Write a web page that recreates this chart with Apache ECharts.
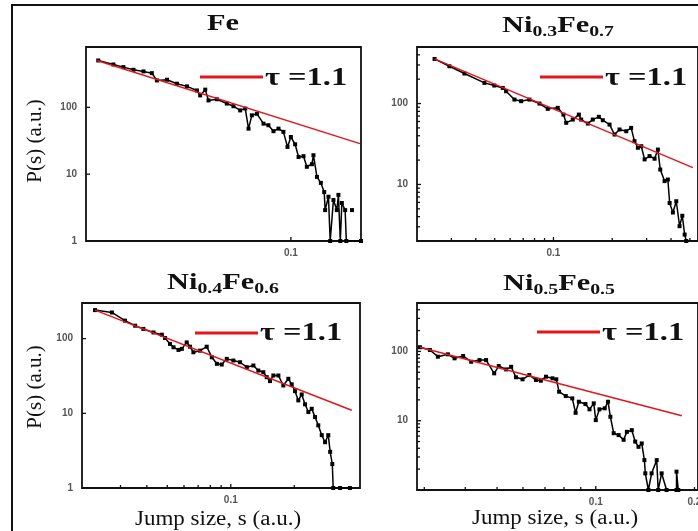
<!DOCTYPE html>
<html>
<head>
<meta charset="utf-8">
<script src="https://cdn.jsdelivr.net/npm/echarts@6/dist/echarts.min.js"></script>
<style>
  html, body { margin: 0; padding: 0; background: #fff; }
  #chart { width: 698px; height: 531px; }
</style>
</head>
<body>
<div id="chart"></div>
<script>
// Jump-size distributions P(s) for four alloys, each with its power-law fit (tau = 1.1)

// --- Fe ---
const feSize = [0.0149, 0.0173, 0.0191, 0.0211, 0.0233, 0.0253, 0.0266, 0.0294, 0.0324, 0.0358, 0.0395, 0.0408, 0.0429, 0.0443, 0.0481, 0.0531, 0.0567, 0.0606, 0.0637, 0.0658, 0.068, 0.0715, 0.0763, 0.0801, 0.0842, 0.0885, 0.0929, 0.0967, 0.1, 0.1043, 0.1079, 0.1133, 0.1171, 0.1231, 0.125, 0.1294, 0.1345, 0.139, 0.1403, 0.145, 0.1475, 0.1523, 0.1575, 0.16, 0.163, 0.1655, 0.171, 0.173, 0.2, null, 0.183];
const feProb = [503, 438, 400, 365, 345, 325, 253, 259, 226, 206, 179, 151, 184, 127, 132, 114, 104, 90, 96, 48, 76, 80, 57, 54, 44, 48, 43, 25.6, 36, 28, 18.1, 18.6, 12.9, 14.1, 19.2, 9.1, 7.4, 5.4, 2.9, 4.6, 1, 4.1, 2.9, 4.9, 1, 3.7, 2.9, 1, 1, null, 2.9];
const feFitSize = [0.0147, 0.198];
const feFitProb = [503, 28.7];

// --- Ni0.3Fe0.7 ---
const ni3Size = [0.0246, 0.0293, 0.035, 0.0443, 0.0498, 0.055, 0.0572, 0.0631, 0.0683, 0.0753, 0.0848, 0.0935, 0.1052, 0.1125, 0.1162, 0.1256, 0.1349, 0.1387, 0.15, 0.159, 0.1708, 0.179, 0.1938, 0.2055, 0.218, 0.236, 0.25, 0.26, 0.2707, 0.2817, 0.293, 0.3106, 0.3296, 0.3427, 0.3524, 0.3709, 0.3855, 0.3936, 0.409, 0.4257, 0.4426, 0.457, 0.47, 0.479];
const ni3Prob = [356, 289, 235, 180, 167, 156, 142, 112, 107, 112, 100, 86, 88.5, 73, 57.8, 63.4, 73, 63.4, 56.6, 63.4, 68.5, 62.2, 55, 41.4, 47.8, 45.5, 50, 34.3, 28.4, 29.7, 20.4, 22.4, 20.8, 27, 15.3, 11, 11.5, 5.9, 4.5, 6.2, 3.05, 4.1, 2.4, 2];
const ni3FitSize = [0.0246, 0.5176];
const ni3FitProb = [356, 16.1];

// --- Ni0.4Fe0.6 ---
const ni4Size = [0.0227, 0.0273, 0.0315, 0.0352, 0.0385, 0.043, 0.0471, 0.0488, 0.0515, 0.0535, 0.0565, 0.0586, 0.0618, 0.0641, 0.0665, 0.0715, 0.0769, 0.0813, 0.0859, 0.0906, 0.0957, 0.1029, 0.1107, 0.1191, 0.128, 0.1351, 0.1427, 0.148, 0.1535, 0.1592, 0.1682, 0.1775, 0.1875, 0.1945, 0.2017, 0.209, 0.217, 0.225, 0.2333, 0.242, 0.251, 0.26, 0.27, 0.28, 0.29, 0.296, 0.303, 0.306, 0.33, 0.367];
const ni4Prob = [241, 224, 174, 149, 135, 121, 113, 102, 85, 76.6, 70.6, 72.9, 89, 78, 65.7, 69, 78, 56.3, 46, 45, 53.6, 50.9, 48.3, 41.5, 43.7, 37.4, 35.5, 30.5, 27, 32.1, 32.1, 23.6, 29, 24.4, 19.8, 14.9, 17.9, 13.2, 10.4, 11.5, 8.9, 6.9, 5.1, 4.1, 5.1, 3.05, 2.09, 1, 1, 1];
const ni4FitSize = [0.0227, 0.3746];
const ni4FitProb = [241, 11];

// --- Ni0.5Fe0.5 ---
const ni5Size = [0.0291, 0.0312, 0.033, 0.0354, 0.0371, 0.0394, 0.0417, 0.0442, 0.0463, 0.049, 0.0506, 0.0533, 0.0552, 0.0571, 0.0598, 0.0627, 0.0657, 0.068, 0.0705, 0.0738, 0.0758, 0.0773, 0.081, 0.0848, 0.0868, 0.0888, 0.093, 0.0957, 0.0986, 0.1, 0.1026, 0.1065, 0.109, 0.1108, 0.1134, 0.1174, 0.1216, 0.1244, 0.1288, 0.1319, 0.135, 0.1381, 0.1407, 0.1416, 0.1447, 0.148, 0.1534, 0.155, 0.1588, 0.1644, 0.1763, 0.1763, 0.1785];
const ni5Prob = [115, 105, 84, 90.8, 79.5, 85.9, 71, 75, 75, 48.3, 61.5, 55, 60, 42.3, 39.6, 45.6, 38.7, 37.8, 43.2, 40.9, 39.6, 26.2, 22.7, 21, 13, 18.8, 17.4, 14.6, 17.8, 10.2, 14.6, 15.1, 18.8, 11.4, 6.6, 6.2, 5.3, 6.9, 7.3, 5, 4.2, 4.7, 2.7, 1.74, 1, 1.74, 2.7, 1, 1.74, 1, 1, 1.84, 1];
const ni5FitSize = [0.0291, 0.183];
const ni5FitProb = [115, 11.8];

// Axis ranges
const xRanges = [[0.0132, 0.2], [0.02, 0.55], [0.0197, 0.41], [0.0285, 0.205]];
const yRanges = [[1, 800], [2, 500], [1, 300], [1, 500]];

// Tick marks (major + minor) and tick labels for each panel
const xTickVals = [
  [0.1],
  [0.03, 0.04, 0.05, 0.06, 0.07, 0.08, 0.09, 0.1, 0.2, 0.3, 0.4, 0.5],
  [0.03, 0.04, 0.05, 0.06, 0.07, 0.08, 0.09, 0.1, 0.2],
  [0.03, 0.04, 0.05, 0.06, 0.07, 0.08, 0.09, 0.1, 0.2]
];
const yTickVals = [
  [10, 100],
  [3, 4, 5, 6, 7, 8, 9, 10, 20, 30, 40, 50, 60, 70, 80, 90, 100, 200, 300, 400],
  [10, 100],
  [2, 3, 4, 5, 6, 7, 8, 9, 10, 20, 30, 40, 50, 60, 70, 80, 90, 100, 200, 300, 400]
];
const xTickLabels = [[0.1], [0.1], [0.1], [0.1, 0.2]];
const yTickLabels = [[1, 10, 100], [10, 100], [1, 10, 100], [10, 100]];

const panelTitles = [
  ['Fe', '', '', ''],
  ['Ni', '0.3', 'Fe', '0.7'],
  ['Ni', '0.4', 'Fe', '0.6'],
  ['Ni', '0.5', 'Fe', '0.5']
];
const fitLabel = 'τ =1.1';
const yName = 'P(s) (a.u.)';
const xName = 'Jump size, s (a.u.)';

const sizes = [feSize, ni3Size, ni4Size, ni5Size];
const probs = [feProb, ni3Prob, ni4Prob, ni5Prob];
const fitSizes = [feFitSize, ni3FitSize, ni4FitSize, ni5FitSize];
const fitProbs = [feFitProb, ni3FitProb, ni4FitProb, ni5FitProb];

// Layout of the four plot boxes
const grids = [
  { left: 86, top: 47, width: 275, height: 194 },
  { left: 417, top: 47, width: 282, height: 194 },
  { left: 82, top: 303, width: 278, height: 185 },
  { left: 417, top: 303, width: 283, height: 187 }
];

const SERIF = '"Liberation Serif", "Times New Roman", serif';
const SANS = '"Liberation Sans", Arial, sans-serif';
const RED = '#e3141c';

function zip(a, b) {
  return a.map((v, i) => (v === null || b[i] === null) ? ['-', '-'] : [v, b[i]]);
}

function axisFrame(i, range) {
  return {
    type: 'log', logBase: 10, gridIndex: i,
    min: range[0], max: range[1],
    axisLine: { show: false, onZero: false },
    axisTick: { show: false },
    axisLabel: { show: false },
    splitLine: { show: false },
    minorTick: { show: false }
  };
}

// Inward tick marks and tick labels, placed through the panel's own log axes
function tickSeries(i) {
  const xMin = xRanges[i][0], yMin = yRanges[i][0];
  const data = [];
  xTickVals[i].forEach(v => data.push([v, yMin, 0]));
  yTickVals[i].forEach(v => data.push([xMin, v, 1]));
  xTickLabels[i].forEach(v => data.push([v, yMin, 2]));
  yTickLabels[i].forEach(v => data.push([xMin, v, 3]));
  return {
    type: 'custom', xAxisIndex: i, yAxisIndex: i, data: data,
    encode: { x: 0, y: 1 }, clip: false, silent: true, z: 6,
    renderItem: function (params, api) {
      const v0 = api.value(0), v1 = api.value(1), kind = api.value(2);
      const p = api.coord([v0, v1]);
      if (kind === 0) {
        const major = Math.abs(Math.log10(v0) - Math.round(Math.log10(v0))) < 1e-6;
        const len = major ? 4 : 3;
        return { type: 'line', shape: { x1: p[0], y1: p[1], x2: p[0], y2: p[1] - len },
          style: { stroke: '#111', lineWidth: 1.3 } };
      }
      if (kind === 1) {
        const major = Math.abs(Math.log10(v1) - Math.round(Math.log10(v1))) < 1e-6;
        const len = major ? 4 : 3;
        return { type: 'line', shape: { x1: p[0], y1: p[1], x2: p[0] + len, y2: p[1] },
          style: { stroke: '#111', lineWidth: 1.3 } };
      }
      if (kind === 2) {
        return { type: 'text', x: p[0], y: p[1] + 7,
          style: { text: String(v0), fill: '#555', font: 'bold 10px ' + SANS,
            align: 'center', verticalAlign: 'top' } };
      }
      return { type: 'text', x: p[0] - 9, y: p[1],
        style: { text: String(v1), fill: '#555', font: 'bold 10px ' + SANS,
          align: 'right', verticalAlign: 'middle' } };
    }
  };
}

const series = [];
for (let i = 0; i < 4; i++) {
  series.push({
    type: 'line', xAxisIndex: i, yAxisIndex: i,
    data: zip(sizes[i], probs[i]),
    symbol: 'rect', symbolSize: 4, showSymbol: true,
    lineStyle: { color: '#000', width: 1.5 },
    itemStyle: { color: '#000' },
    connectNulls: false, silent: true, animation: false, z: 3
  });
  series.push({
    type: 'line', xAxisIndex: i, yAxisIndex: i,
    data: zip(fitSizes[i], fitProbs[i]),
    symbol: 'none',
    lineStyle: { color: RED, width: 1.4 },
    silent: true, animation: false, z: 4
  });
  series.push(tickSeries(i));
}

// Panel titles, fit legends, axis names and outer frame
const titlePos = [[223, 24], [558, 26], [223, 283], [559, 284]];
const legendPos = [[200, 77, 79], [540, 77, 79], [195, 333, 334], [537, 332, 334]];

const graphics = [
  { type: 'rect', shape: { x: 12, y: 5, width: 720, height: 580 },
    style: { fill: 'none', stroke: '#111', lineWidth: 2 }, z: 10 }
];
panelTitles.forEach((t, i) => {
  graphics.push({
    type: 'text', x: titlePos[i][0], y: titlePos[i][1], scaleX: 1.32, z: 10,
    style: {
      text: '{m|' + t[0] + '}' + (t[1] ? '{s|' + t[1] + '}' : '') + (t[2] ? '{m|' + t[2] + '}' : '') + (t[3] ? '{s|' + t[3] + '}' : ''),
      align: 'center', verticalAlign: 'middle',
      rich: {
        m: { fontSize: 23, fontWeight: 'bold', fontFamily: SERIF, fill: '#111', lineHeight: 26 },
        s: { fontSize: 15, fontWeight: 'bold', fontFamily: SERIF, fill: '#111', lineHeight: 15, padding: [12, 0, 0, 0] }
      }
    }
  });
});
legendPos.forEach((p) => {
  graphics.push({ type: 'line', shape: { x1: p[0], y1: p[1], x2: p[0] + 63, y2: p[1] },
    style: { stroke: RED, lineWidth: 3 }, z: 10 });
  graphics.push({ type: 'text', x: p[0] + 65, y: p[2], scaleX: 1.3, z: 10,
    style: { text: fitLabel, font: 'bold 25px ' + SERIF, fill: '#111',
      align: 'left', verticalAlign: 'middle' } });
});
[[35, 141], [35, 387]].forEach((p) => {
  graphics.push({ type: 'text', x: p[0], y: p[1], rotation: Math.PI / 2, z: 10,
    style: { text: yName, font: '21px ' + SERIF, fill: '#111', align: 'center', verticalAlign: 'middle' } });
});
[[218, 520], [555, 519]].forEach((p) => {
  graphics.push({ type: 'text', x: p[0], y: p[1], scaleX: 1.15, z: 10,
    style: { text: xName, font: '20px ' + SERIF, fill: '#111', align: 'center', verticalAlign: 'middle' } });
});

const chart = echarts.init(document.getElementById('chart'), null, { renderer: 'canvas' });
chart.setOption({
  animation: false,
  backgroundColor: '#fff',
  grid: grids.map(g => Object.assign({ show: true, borderColor: '#111', borderWidth: 1.8, backgroundColor: 'transparent', containLabel: false }, g)),
  xAxis: xRanges.map((r, i) => axisFrame(i, r)),
  yAxis: yRanges.map((r, i) => axisFrame(i, r)),
  series: series,
  graphic: graphics
});
</script>
</body>
</html>
